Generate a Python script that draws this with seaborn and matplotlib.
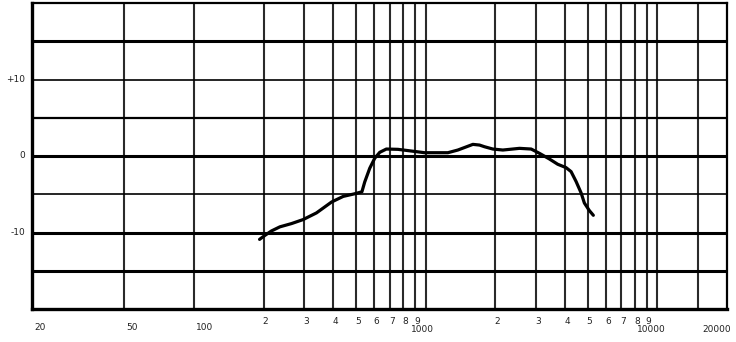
import numpy as np
import pandas as pd
import matplotlib
matplotlib.use("Agg")
import matplotlib.pyplot as plt
import matplotlib.transforms as mtransforms
import seaborn as sns

# ---- data ----
freq_hz = [192, 202, 216, 235, 264, 296, 338, 393, 441, 494, 531, 546, 574,
           603, 634, 677, 760, 868, 990, 1248, 1378, 1600, 1709, 1796, 1951,
           2155, 2542, 2856, 3100, 3423, 3718, 4040, 4246, 4464, 4693, 4845,
           5093, 5297]
response_db = [-10.9, -10.4, -9.8, -9.26, -8.83, -8.31, -7.44, -6.01, -5.28,
               -4.94, -4.68, -3.4, -1.6, -0.3, 0.48, 0.91, 0.87, 0.65, 0.43,
               0.43, 0.78, 1.52, 1.43, 1.21, 0.91, 0.78, 1.0, 0.91, 0.35,
               -0.39, -1.08, -1.52, -2.04, -3.34, -4.84, -6.14, -7.14, -7.75]

vgrid_freqs = [50, 100, 200, 300, 400, 500, 600, 700, 800, 900, 1000,
               2000, 3000, 4000, 5000, 6000, 7000, 8000, 9000, 10000, 15000]
hgrid_db = [15, 10, 5, 0, -5, -10, -15]
hgrid_width = [2.2, 1.2, 1.6, 2.2, 1.2, 2.2, 2.2]
ytick_vals = [10, 0, -10]
ytick_labels = ["+10", "0", "-10"]
xlabel_main = [(20, "20"), (50, "50"), (100, "100")]
xlabel_digits = [(200, "2"), (300, "3"), (400, "4"), (500, "5"), (600, "6"),
                 (700, "7"), (800, "8"), (900, "9"),
                 (2000, "2"), (3000, "3"), (4000, "4"), (5000, "5"),
                 (6000, "6"), (7000, "7"), (8000, "8"), (9000, "9")]
xlabel_low = [(1000, "1000"), (10000, "10000"), (20000, "20000")]

sns.set_style("white")
plt.rcParams["font.family"] = ["DejaVu Sans"]

fig = plt.figure(figsize=(7.36, 3.42), dpi=100)
ax = fig.add_axes([32 / 736, 33 / 342, (727 - 32) / 736, (309 - 3) / 342])
ax.set_xscale("log")
ax.set_xlim(20, 20000)
ax.set_ylim(-20, 20)

for f in vgrid_freqs:
    ax.axvline(f, color="#2a2a2a", lw=1.5, zorder=1)
for d, w in zip(hgrid_db, hgrid_width):
    ax.axhline(d, color="black", lw=w, zorder=1)

df = pd.DataFrame({"freq": freq_hz, "db": response_db})
sns.lineplot(data=df, x="freq", y="db", ax=ax, color="black", lw=2.3,
             sort=False, zorder=3)
for ln in ax.lines[-1:]:
    ln.set_solid_capstyle("round")
    ln.set_solid_joinstyle("round")

for side in ["left", "right", "top", "bottom"]:
    ax.spines[side].set_visible(True)
    ax.spines[side].set_color("black")
ax.spines["left"].set_linewidth(2.4)
ax.spines["bottom"].set_linewidth(2.4)
ax.spines["top"].set_linewidth(1.6)
ax.spines["right"].set_linewidth(1.6)

ax.set_xticks([])
ax.set_yticks([])
ax.set_xlabel("")
ax.set_ylabel("")

# y labels
ytrans = ax.get_yaxis_transform()
for v, s in zip(ytick_vals, ytick_labels):
    ax.text(-0.01, v, s, transform=ytrans, ha="right", va="center",
            fontsize=6.5, color="#222222")

xtrans = ax.get_xaxis_transform()
def off(dx, dy):
    return xtrans + mtransforms.ScaledTranslation(dx / 100, dy / 100,
                                                  fig.dpi_scale_trans)

for f, s in xlabel_main:
    ax.text(f, 0, s, transform=off(2, -18), ha="left", va="center",
            fontsize=6.5, color="#222222")
for f, s in xlabel_digits:
    ax.text(f, 0, s, transform=off(2, -13), ha="center", va="center",
            fontsize=6.5, color="#222222")
low_dx = {1000: -3, 10000: -6, 20000: -10}
for f, s in xlabel_low:
    ax.text(f, 0, s, transform=off(low_dx[f], -21), ha="center",
            va="center", fontsize=6.5, color="#222222")

fig.savefig("out.png", dpi=100)
